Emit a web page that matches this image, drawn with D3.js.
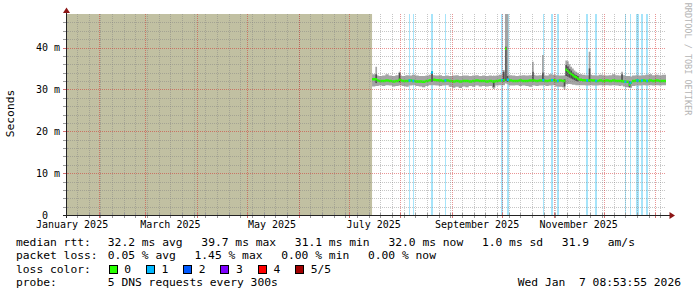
<!DOCTYPE html>
<html>
<head>
<meta charset="utf-8">
<script src="https://cdn.jsdelivr.net/npm/d3@7/dist/d3.min.js"></script>
<style>
	body { margin: 0; background: #fff; }
	text { font-family: 'DejaVu Sans Mono', monospace; fill: #000; white-space: pre; }
</style>
</head>
<body>
<svg id="viz_area" width="697" height="297"></svg>
<script>
const graphStart = '2025-01-12 08:53:55';
const graphEnd = '2026-01-07 08:53:55';

// smoke in 2 day steps from 15 July 2025 (ms)
const baseMed = [
	32.4, 32.1, 32.0, 32.0, 32.1, 32.0, 31.9, 32.0, 32.1, 32.0,
	32.0, 32.1, 32.0, 31.9, 31.9, 31.8, 32.0, 32.2, 32.3, 32.2,
	32.1, 32.0, 32.1, 32.0, 31.9, 32.0, 31.9, 32.0, 32.0, 31.9,
	32.0, 32.1, 32.0, 32.0, 31.9, 32.0, 31.9, 32.0, 32.1, 32.2,
	32.2, 32.1, 32.0, 32.0, 32.1, 32.0, 32.0, 32.1, 32.1, 32.0,
	32.1, 32.1, 32.0, 32.1, 32.2, 32.0, 32.1, 32.0, 34.0, 33.6,
	33.0, 32.6, 32.3, 32.2, 32.1, 32.2, 32.1, 32.0, 32.1, 32.0,
	32.1, 32.0, 32.1, 32.0, 32.0, 31.9, 31.8, 31.6, 32.0, 32.1,
	32.0, 32.1, 32.0, 32.1, 32.0, 32.1, 32.0, 32.0
];
const baseMin = [
	30.7, 30.8, 30.9, 30.8, 31.0, 30.9, 30.7, 30.8, 30.9, 30.8,
	30.6, 30.9, 31.0, 30.8, 30.7, 30.5, 30.8, 31.0, 31.0, 30.9,
	30.8, 30.9, 31.0, 30.6, 30.4, 30.6, 30.3, 30.7, 30.5, 30.8,
	30.6, 30.9, 30.7, 30.8, 30.7, 30.8, 30.4, 30.9, 31.0, 31.0,
	31.0, 30.9, 30.9, 31.0, 30.8, 30.9, 30.8, 30.6, 30.9, 30.8,
	30.9, 31.0, 30.8, 30.9, 31.0, 30.7, 30.6, 30.5, 31.2, 31.2,
	31.1, 31.0, 31.0, 31.0, 30.9, 31.0, 30.9, 30.9, 31.0, 30.9,
	31.0, 30.9, 31.0, 30.9, 30.8, 30.7, 30.5, 30.4, 30.8, 30.9,
	30.9, 31.0, 30.9, 31.0, 30.9, 31.0, 30.9, 31.0
];
const baseMax = [
	33.6, 33.3, 33.2, 33.3, 33.6, 33.3, 33.2, 33.4, 33.3, 33.2,
	33.4, 33.3, 33.5, 33.3, 33.2, 33.2, 33.3, 33.5, 33.4, 33.3,
	33.4, 33.2, 33.3, 33.2, 33.3, 33.4, 33.2, 33.3, 33.3, 33.2,
	33.3, 33.4, 33.2, 33.3, 33.2, 33.3, 33.2, 33.3, 33.5, 33.6,
	33.5, 33.4, 33.3, 33.2, 33.3, 33.4, 33.3, 33.4, 33.5, 33.3,
	33.4, 33.4, 33.3, 33.6, 33.5, 33.4, 33.3, 33.3, 35.8, 35.0,
	34.4, 33.9, 33.6, 33.5, 33.4, 33.5, 33.4, 33.3, 33.5, 33.4,
	33.3, 33.4, 33.6, 33.4, 33.3, 33.4, 33.2, 33.1, 33.3, 33.4,
	33.3, 33.4, 33.5, 33.6, 33.4, 33.5, 33.4, 33.5
];

// one day periods with a wide spread of the 5 pings
const spikeTimes = [
	'2025-07-17 00', '2025-07-31 00', '2025-08-19 12', '2025-09-25 12', '2025-10-01 12',
	'2025-10-02 18', '2025-10-03 18', '2025-10-19 00', '2025-10-25 00', '2025-11-07 00',
	'2025-11-08 00', '2025-11-09 00', '2025-11-10 00', '2025-11-11 00', '2025-11-12 00',
	'2025-11-13 00', '2025-11-14 00', '2025-11-15 00', '2025-11-22 00', '2025-12-11 12',
	'2025-12-16 00'
];
const spikeMin = [30.8, 30.9, 31.0, 30.1, 31.0, 31.4, 31.2, 30.9, 30.9, 29.9, 31.2, 31.3, 31.3, 31.2, 31.1, 31.1, 31.0, 31.0, 30.9, 30.9, 30.3];
const spikeLow = [31.5, 31.7, 31.8, 30.6, 31.8, 32.0, 31.8, 31.8, 31.8, 30.7, 33.2, 33.0, 32.8, 32.6, 32.4, 32.2, 32.0, 31.9, 31.8, 31.7, 30.6];
const spikeMed = [32.4, 32.3, 34.0, 31.9, 32.2, 39.7, 32.3, 32.1, 32.2, 32.0, 34.7, 34.4, 34.0, 33.7, 33.4, 33.1, 32.9, 32.6, 32.1, 32.0, 31.1];
const spikeHigh = [33.6, 33.9, 34.1, 32.1, 34.2, 40.2, 33.2, 34.2, 34.0, 32.4, 35.8, 35.5, 34.9, 34.5, 34.0, 33.6, 33.4, 33.2, 35.0, 33.6, 31.9];
const spikeMax = [35.4, 34.2, 34.4, 33.3, 34.6, 60.0, 60.0, 36.6, 38.2, 33.4, 36.9, 36.7, 36.0, 35.4, 35.0, 34.5, 34.2, 34.0, 39.0, 34.2, 33.2];

// 12h samples where 1 of 5 pings was lost
const lossTimes = [
	'2025-08-06 00', '2025-08-06 12', '2025-08-08 12', '2025-08-19 12', '2025-08-20 00',
	'2025-08-27 12', '2025-08-28 00', '2025-09-30 12', '2025-10-01 00', '2025-10-04 00',
	'2025-10-04 12', '2025-10-25 12', '2025-10-30 12', '2025-10-31 00', '2025-11-03 00',
	'2025-11-03 12', '2025-11-20 12', '2025-11-21 00', '2025-11-26 00', '2025-11-26 12',
	'2025-12-13 12', '2025-12-14 00', '2025-12-16 12', '2025-12-17 00', '2025-12-20 12',
	'2025-12-21 00', '2025-12-21 12', '2025-12-23 12', '2025-12-24 00', '2025-12-26 12',
	'2025-12-27 00'
];

const yTicks = [0, 10, 20, 30, 40];
const yTickUnits = ['', 'm', 'm', 'm', 'm'];
const labelMonths = ['2025-01-01', '2025-03-01', '2025-05-01', '2025-07-01', '2025-09-01', '2025-11-01'];
const labelTexts = ['January 2025', 'March 2025', 'May 2025', 'July 2025', 'September 2025', 'November 2025'];

const medianStats = ['32.2 ms avg', '39.7 ms max', '31.1 ms min', '32.0 ms now', '1.0 ms sd', '31.9', 'am/s'];
const lossStats = ['0.05 % avg', '1.45 % max', '0.00 % min', '0.00 % now'];
const lossNames = ['0', '1', '2', '3', '4', '5/5'];
const lossColors = ['#26ff00', '#00b8ff', '#0059ff', '#7e00ff', '#ff0000', '#a10000'];
const probeText = '5 DNS requests every 300s';
const stampText = 'Wed Jan  7 08:53:55 2026';

function drawGraph() {
	const parseFull = d3.timeParse('%Y-%m-%d %H:%M:%S');
	const parseHour = d3.timeParse('%Y-%m-%d %H');
	const parseDay = d3.timeParse('%Y-%m-%d');
	const start = parseFull(graphStart);
	const end = parseFull(graphEnd);
	const day = 864e5;
	const step = 432e5;

	let svg = d3.select('#viz_area');
	let x = d3.scaleTime().domain([ start, end ]).range([ 66, 666 ]);
	let y = d3.scaleLinear().domain([ 0, 48 ]).range([ 215, 14 ]).clamp(true);
	const top = 14, bottom = 215;

	//dotted grid patterns
	let defs = svg.append('defs');
	const minorCol = 'rgba(128,128,128,0.45)';
	const majorCol = 'rgba(210,30,30,0.47)';
	[ [ 'vMinor', 1, 2, minorCol ], [ 'hMinor', 2, 1, minorCol ], [ 'vMajor', 1, 2, majorCol ], [ 'hMajor', 2, 1, majorCol ] ]
		.forEach((p) => {
			defs.append('pattern').attr('id', p[0]).attr('patternUnits', 'userSpaceOnUse')
				.attr('width', p[1]).attr('height', p[2])
				.append('rect').attr('width', 1).attr('height', 1).style('fill', p[3]);
		});

	//sample buckets, 2 days each
	const baseDays = d3.timeDay.range(new Date(2025, 6, 15), new Date(2026, 0, 7), 2);
	let baseRows = baseDays.map((t, i) => ({
		t0: +t, t1: i + 1 < baseDays.length ? +baseDays[i + 1] : +end,
		lo: baseMin[i], p2: null, med: baseMed[i], p4: null, hi: baseMax[i]
	}));
	let spikeRows = spikeTimes.map((s, i) => {
		let t = +parseHour(s);
		return { t0: t, t1: t + day, lo: spikeMin[i], p2: spikeLow[i], med: spikeMed[i], p4: spikeHigh[i], hi: spikeMax[i] };
	});
	//cut base buckets where a spike sits on top
	let cuts = Array.from(new Set(baseRows.concat(spikeRows).flatMap((r) => [ r.t0, r.t1 ]))).sort((a, b) => a - b);
	let segs = [];
	for (let k = 0; k < cuts.length - 1; k++) {
		let a = cuts[k];
		let hit = spikeRows.find((r) => a >= r.t0 && a < r.t1) || baseRows.find((r) => a >= r.t0 && a < r.t1);
		if (hit) segs.push(Object.assign({}, hit, { t0: a, t1: cuts[k + 1] }));
	}
	let pts = segs.map((s) => ({ t: s.t0, lo: s.lo, hi: s.hi, med: s.med }));
	let last = segs[segs.length - 1];
	pts.push({ t: last.t1, lo: last.lo, hi: last.hi, med: last.med });

	//no data before the probe started
	svg.append('rect').attr('x', x(start)).attr('y', top)
		.attr('width', x(baseDays[0]) - x(start)).attr('height', bottom - top)
		.style('fill', '#c1c0a2');

	//loss runs
	let lossT = lossTimes.map((s) => +parseHour(s)).sort((a, b) => a - b);
	let runs = [];
	lossT.forEach((t) => {
		if (runs.length && runs[runs.length - 1].t1 === t) runs[runs.length - 1].t1 = t + step;
		else runs.push({ t0: t, t1: t + step });
	});
	runs.forEach((r) => {
		let x0 = Math.round(x(r.t0));
		let x1 = Math.max(x0 + 1, Math.round(x(r.t1)));
		svg.append('rect').attr('x', x0).attr('y', top).attr('width', x1 - x0).attr('height', bottom - top)
			.style('fill', '#a6e4fa');
	});

	//smoke
	svg.append('path')
		.attr('d', d3.area().x((d) => x(d.t)).y0((d) => y(d.lo)).y1((d) => y(d.hi)).curve(d3.curveStepAfter)(pts))
		.style('fill', '#a4a4a4');
	segs.filter((s) => s.p2 !== null).forEach((s) => {
		svg.append('rect').attr('x', x(s.t0)).attr('width', x(s.t1) - x(s.t0))
			.attr('y', y(s.p4)).attr('height', y(s.p2) - y(s.p4))
			.style('fill', '#505050');
	});

	//median as a thin band, no connectors
	svg.append('path')
		.attr('d', d3.area().x((d) => x(d.t)).y0((d) => y(d.med) + 1.25).y1((d) => y(d.med) - 1.25)
			.curve(d3.curveStepAfter)(pts))
		.style('fill', lossColors[0]);
	runs.forEach((r) => {
		let mid = (r.t0 + r.t1) / 2;
		let s = segs.find((g) => mid >= g.t0 && mid < g.t1);
		if (!s) return;
		let w = Math.max(2, x(r.t1) - x(r.t0));
		let cx = (x(r.t0) + x(r.t1)) / 2;
		svg.append('rect').attr('x', cx - w / 2).attr('width', w).attr('y', y(s.med) - 1.25).attr('height', 2.5)
			.style('fill', lossColors[1]);
	});

	//grid
	let grid = svg.append('g');
	let weeks = d3.timeWeek.range(start, end);
	let months = d3.timeMonth.range(start, end);
	weeks.forEach((t) => {
		grid.append('rect').attr('x', Math.round(x(t))).attr('width', 1).attr('y', top).attr('height', bottom - top)
			.style('fill', 'url(#vMinor)');
	});
	d3.range(2, 48, 2).filter((v) => v % 10 !== 0).forEach((v) => {
		grid.append('rect').attr('x', 67).attr('width', 599).attr('y', Math.round(y(v))).attr('height', 1)
			.style('fill', 'url(#hMinor)');
	});
	months.forEach((t) => {
		grid.append('rect').attr('x', Math.round(x(t))).attr('width', 1).attr('y', top).attr('height', bottom - top)
			.style('fill', 'url(#vMajor)');
	});
	yTicks.slice(1).forEach((v) => {
		grid.append('rect').attr('x', 67).attr('width', 599).attr('y', Math.round(y(v))).attr('height', 1)
			.style('fill', 'url(#hMajor)');
	});

	//ticks on the axes
	let ticks = svg.append('g').attr('shape-rendering', 'crispEdges');
	weeks.forEach((t) => {
		let px = Math.round(x(t)) + 0.5;
		ticks.append('line').attr('x1', px).attr('x2', px).attr('y1', 213).attr('y2', 218).attr('stroke', '#9a9a9a');
	});
	months.forEach((t) => {
		let px = Math.round(x(t)) + 0.5;
		ticks.append('line').attr('x1', px).attr('x2', px).attr('y1', 213).attr('y2', 218).attr('stroke', '#d47070');
	});
	d3.range(2, 48, 2).forEach((v) => {
		let py = Math.round(y(v)) + 0.5;
		ticks.append('line').attr('x1', 63).attr('x2', 68).attr('y1', py).attr('y2', py)
			.attr('stroke', v % 10 === 0 ? '#d47070' : '#9a9a9a');
	});

	//axes and arrows
	ticks.append('line').attr('x1', 66.5).attr('x2', 66.5).attr('y1', 218).attr('y2', 12).attr('stroke', '#222');
	ticks.append('line').attr('x1', 63).attr('x2', 670).attr('y1', 215.5).attr('y2', 215.5).attr('stroke', '#222');
	svg.append('polygon').attr('points', '66.5,7.5 63,13 70,13').style('fill', '#8c1515');
	svg.append('polygon').attr('points', '675,215.5 669.5,212 669.5,219').style('fill', '#8c1515');

	//y labels
	yTicks.forEach((v, i) => {
		svg.append('text').attr('x', 48).attr('y', y(v) + 3.5).attr('text-anchor', 'end')
			.style('font-size', '10px').text(v);
		if (yTickUnits[i]) {
			svg.append('text').attr('x', 54).attr('y', y(v) + 3.5).style('font-size', '10px').text(yTickUnits[i]);
		}
	});

	//x labels, centred half a month in
	labelMonths.forEach((m, i) => {
		svg.append('text').attr('x', x(d3.timeDay.offset(parseDay(m), 15))).attr('y', 228)
			.attr('text-anchor', 'middle').style('font-size', '10px').text(labelTexts[i]);
	});

	svg.append('text').attr('transform', 'translate(14,113.5) rotate(-90)').attr('text-anchor', 'middle')
		.style('font-size', '11.3px').text('Seconds');
	svg.append('text').attr('transform', 'translate(685,59) rotate(90)').attr('text-anchor', 'middle')
		.style('font-size', '8.5px').style('fill', '#b4b4b4').text('RRDTOOL / TOBI OETIKER');

	//legend
	const legendSize = '11.3px';
	const gap = 18.7;
	function row(label, items, yy) {
		svg.append('text').attr('x', 16).attr('y', yy).style('font-size', legendSize).text(label);
		let px = 107.8;
		items.forEach((s) => {
			let t = svg.append('text').attr('x', px).attr('y', yy).style('font-size', legendSize).text(s);
			px += t.node().getComputedTextLength() + gap;
		});
	}
	row('median rtt:', medianStats, 245.5);
	row('packet loss:', lossStats, 259.3);
	svg.append('text').attr('x', 16).attr('y', 272.7).style('font-size', legendSize).text('loss color:');
	lossNames.forEach((n, i) => {
		let bx = 108.5 + i * 37.3;
		svg.append('rect').attr('x', bx + 0.5).attr('y', 265.5).attr('width', 8).attr('height', 8)
			.attr('shape-rendering', 'crispEdges')
			.style('fill', lossColors[i]).style('stroke', '#000');
		svg.append('text').attr('x', bx + 15.7).attr('y', 272.7).style('font-size', legendSize).text(n);
	});
	row('probe:', [ probeText ], 286);
	svg.append('text').attr('x', 681).attr('y', 286).attr('text-anchor', 'end')
		.style('font-size', legendSize).text(stampText);
}

drawGraph();
</script>
</body>
</html>
